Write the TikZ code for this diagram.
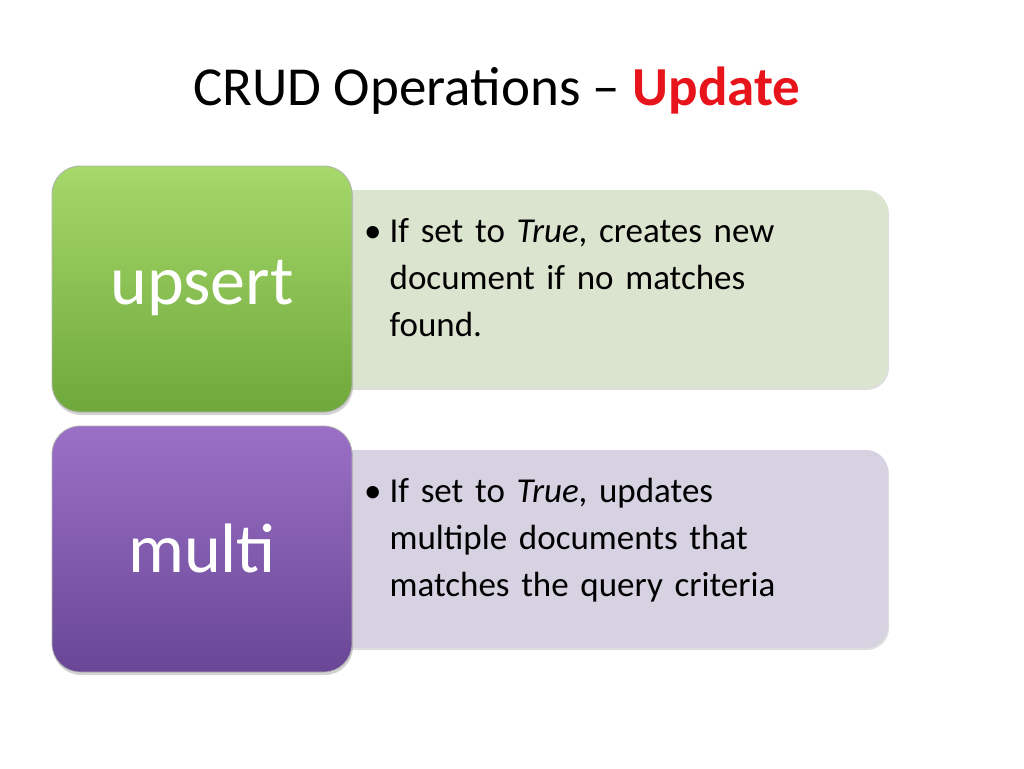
\documentclass[tikz,border=0pt]{standalone}
\usepackage{fontspec}
\setmainfont{Carlito}
\usetikzlibrary{shadows}
\definecolor{gtop}{HTML}{A6D86A}
\definecolor{gbot}{HTML}{6FA83C}
\definecolor{ptop}{HTML}{9A70C6}
\definecolor{pbot}{HTML}{6A4796}
\definecolor{gpan}{HTML}{DAE4CF}
\definecolor{ppan}{HTML}{D6D2E1}
\definecolor{upd}{HTML}{E8141B}
\begin{document}
\begin{tikzpicture}[x=1pt,y=-1pt,
  panel/.style={rounded corners=22pt, drop shadow={shadow xshift=1pt,shadow yshift=-2pt,opacity=0.25}},
  key/.style={rounded corners=28pt, draw=white!70!black, line width=0.8pt, drop shadow={shadow xshift=1pt,shadow yshift=-3pt,opacity=0.35}},
  keytxt/.style={text=white, font=\fontsize{70}{80}\selectfont},
  bul/.style={anchor=north west, align=left, text width=480pt, font=\fontsize{35}{47}\selectfont, inner sep=0pt}]
\useasboundingbox (0,0) rectangle (1024,768);
\node[anchor=base west, inner sep=0pt, font=\fontsize{55}{60}\selectfont] (title) at (193,105)
  {CRUD Operations -- {\bfseries\color{upd}Update}};
% upsert
\fill[gpan, panel] (330,190) rectangle (888,388);
\shade[key, top color=gtop, bottom color=gbot] (52,166) rectangle (352,412);
\node[keytxt] (k1) at (202,288) {upsert};
\node[bul] (t1) at (364,218) {\textbullet\hspace{8pt}\parbox[t]{460pt}{If set to \textit{True}, creates new\\document if no matches\\found.}};
% multi
\fill[ppan, panel] (330,450) rectangle (888,648);
\shade[key, top color=ptop, bottom color=pbot] (52,426) rectangle (352,672);
\node[keytxt] (k2) at (202,548) {multi};
\node[bul] (t2) at (364,478) {\textbullet\hspace{8pt}\parbox[t]{460pt}{If set to \textit{True}, updates\\multiple documents that\\matches the query criteria}};
\end{tikzpicture}
\end{document}
